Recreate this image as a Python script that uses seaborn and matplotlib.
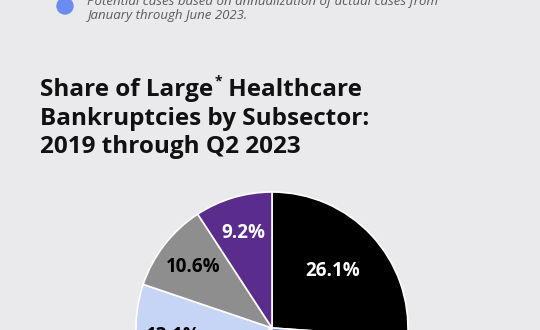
import matplotlib
matplotlib.use("Agg")
import matplotlib.pyplot as plt
import seaborn as sns
import numpy as np

# ---- data ----
subsectors = ["Subsector 1", "Subsector 2", "Subsector 3", "Subsector 4", "Subsector 5", "Subsector 6"]
shares = [26.1, 23.9, 17.1, 13.1, 10.6, 9.2]
slice_colors = ["#000000", "#6A8CF0", "#2B1B4A", "#C6D4F6", "#8E8E8E", "#5A2D8C"]
label_colors = ["white", "white", "white", "black", "black", "white"]
label_dist = [0.61, 0.72, 0.72, 0.73, 0.73, 0.73]

title_lines = ["Share of Large", "Bankruptcies by Subsector:", "2019 through Q2 2023"]
legend_lines = ["Potential cases based on annualization of actual cases from",
                "January through June 2023."]

BG = "#EAEAEC"
TITLE_FONT = ["Open Sans", "DejaVu Sans"]

sns.set_theme(style="white")
plt.rcParams["font.family"] = TITLE_FONT

W, H = 540, 330
fig = plt.figure(figsize=(W / 100, H / 100), dpi=100, facecolor=BG)

def fx(px):
    return px / W

def fy(py):
    return 1 - py / H

# legend marker and text
fig.patches.append(matplotlib.patches.Ellipse((fx(65), fy(6)), 16 / W, 16 / H,
                                              transform=fig.transFigure,
                                              color="#6A8CF0", zorder=3))
for i, line in enumerate(legend_lines):
    fig.text(fx(87), fy(5 + 14 * i), line, family=["Open Sans", "DejaVu Sans"],
             style="italic", fontsize=9.5, color="#5A5A5A", va="baseline", ha="left")

# title
tsize = 17.5
tkw = dict(fontsize=tsize, weight="bold", color="#111111", va="baseline", ha="left")
t1 = fig.text(fx(40), fy(96), title_lines[0], **tkw)
fig.canvas.draw()
r = fig.canvas.get_renderer()
bb = t1.get_window_extent(r)
star = fig.text(bb.x1 / W + fx(1), fy(85), "*", fontsize=10, weight="bold",
                color="#111111", va="baseline", ha="left")
fig.canvas.draw()
sb = star.get_window_extent(r)
fig.text(sb.x1 / W, fy(96), " Healthcare", **tkw)
fig.text(fx(40), fy(125), title_lines[1], **tkw)
fig.text(fx(40), fy(153.5), title_lines[2], **tkw)

# pie
cx, cy, rad = 272, 328, 136
ax = fig.add_axes([fx(cx - rad), fy(cy + rad), 2 * rad / W, 2 * rad / H])
ax.set_facecolor("none")
wedges, _ = ax.pie(shares, colors=slice_colors, startangle=90, counterclock=False,
                   wedgeprops=dict(edgecolor="white", linewidth=1.2))
ax.set_xlim(-1, 1)
ax.set_ylim(-1, 1)
ax.set_aspect("equal")
ax.axis("off")
for w, v, c, d in zip(wedges, shares, label_colors, label_dist):
    ang = np.deg2rad((w.theta1 + w.theta2) / 2)
    ax.text(d * np.cos(ang), d * np.sin(ang), f"{v:.1f}%", ha="center", va="center",
            fontsize=13.5, weight="bold", color=c)

fig.savefig("out.png", dpi=100, facecolor=BG)
